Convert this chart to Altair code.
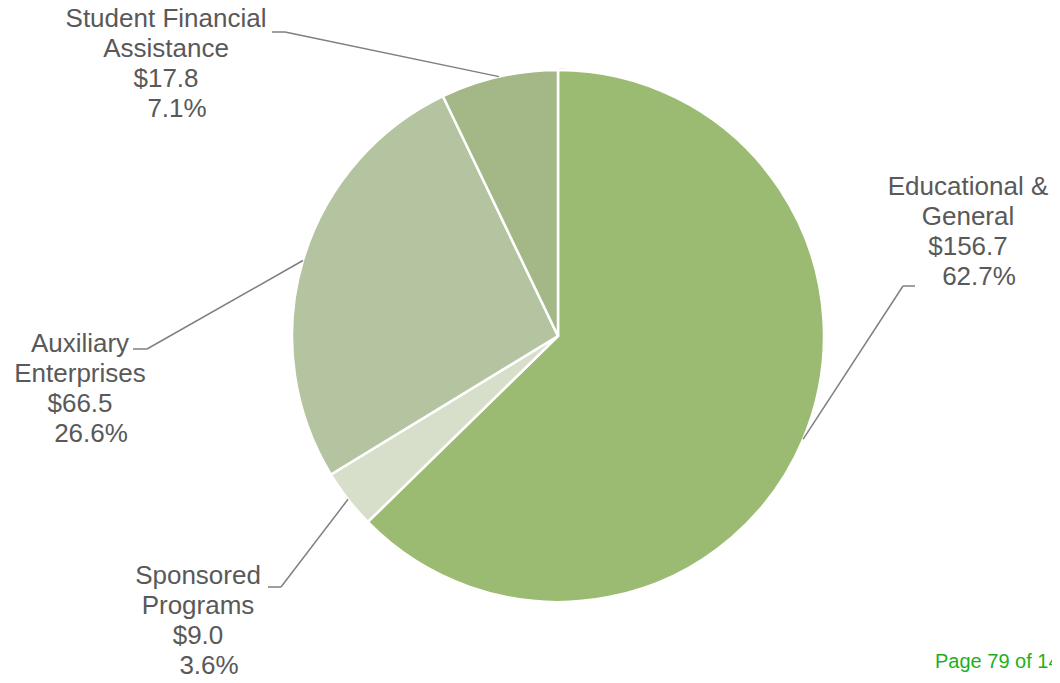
import altair as alt
import pandas as pd
import numpy as np

# ---- data ----
categories = ["Educational & General", "Sponsored Programs", "Auxiliary Enterprises", "Student Financial Assistance"]
name_lines = [["Educational &", "General"], ["Sponsored", "Programs"], ["Auxiliary", "Enterprises"], ["Student Financial", "Assistance"]]
amounts = [156.7, 9.0, 66.5, 17.8]
percents = [62.7, 3.6, 26.6, 7.1]
colors = ["#9BBB72", "#D7DFCA", "#B5C4A0", "#A3B886"]

# ---- layout (image pixel coords; page margin is 8px) ----
OFF = 8
CX, CY, R = 558, 336, 266
label_anchor = [(968, 195), (198, 584), (80, 352), (166, 27)]   # center x, first-line baseline
LINE_H = 30
PCT_DX = 11
elbow_pos = [(903, 286), (281, 587), (147, 349), (285, 32)]
tail_pos = [(915, 286), (268, 587), (133, 349), (272, 32)]

df = pd.DataFrame({"cat": categories, "amount": amounts, "pct": percents, "color": colors})
df["order"] = range(len(df))

total = sum(amounts)
cum = np.cumsum([0] + amounts)
mid = [(cum[i] + cum[i + 1]) / 2 / total * 2 * np.pi for i in range(len(amounts))]

rows = []
for i in range(len(amounts)):
    lines = name_lines[i] + [f"${amounts[i]:.1f}", f"{percents[i]:.1f}%"]
    ax, ay = label_anchor[i]
    for j, t in enumerate(lines):
        dx = PCT_DX if j == len(lines) - 1 else 0
        rows.append({"text": t, "x": ax + dx - OFF, "y": ay + j * LINE_H - OFF})
lab = pd.DataFrame(rows)

seg_rows = []
for i in range(len(amounts)):
    ax = CX + R * np.sin(mid[i]) - OFF
    ay = CY - R * np.cos(mid[i]) - OFF
    ex, ey = elbow_pos[i][0] - OFF, elbow_pos[i][1] - OFF
    tx, ty = tail_pos[i][0] - OFF, tail_pos[i][1] - OFF
    seg_rows.append({"x": ax, "y": ay, "x2": ex, "y2": ey})
    seg_rows.append({"x": ex, "y": ey, "x2": tx, "y2": ty})
seg = pd.DataFrame(seg_rows)

W, H = 1044, 667
xs = alt.Scale(domain=[0, W], range=[0, W])
ys = alt.Scale(domain=[0, H], range=[0, H])

shadow = alt.Chart(pd.DataFrame({"v": [1]})).mark_arc(
    radius=R + 2, color="#E6E6E6", stroke="#D9D9D9", strokeWidth=1
).encode(theta=alt.Theta("v:Q"), x=alt.value(CX - OFF + 1), y=alt.value(CY - OFF + 1))

pie = alt.Chart(df).mark_arc(radius=R, stroke="#FFFFFF", strokeWidth=2.5).encode(
    theta=alt.Theta("amount:Q", stack=True),
    order=alt.Order("order:Q"),
    color=alt.Color("color:N", scale=None),
    x=alt.value(CX - OFF),
    y=alt.value(CY - OFF),
)

leaders = alt.Chart(seg).mark_rule(color="#7F7F7F", strokeWidth=1.5).encode(
    x=alt.X("x:Q", scale=xs, axis=None),
    x2="x2:Q",
    y=alt.Y("y:Q", scale=ys, axis=None),
    y2="y2:Q",
)

labels = alt.Chart(lab).mark_text(
    align="center", baseline="alphabetic", font="Liberation Sans", fontSize=26, color="#595959"
).encode(
    x=alt.X("x:Q", scale=xs, axis=None),
    y=alt.Y("y:Q", scale=ys, axis=None),
    text="text:N",
)

page = alt.Chart(pd.DataFrame({"t": ["Page 79 of 14"]})).mark_text(
    align="left", baseline="alphabetic", font="Liberation Sans", fontSize=20, color="#1DB01D"
).encode(x=alt.value(935 - OFF), y=alt.value(668 - OFF), text="t:N")

chart = alt.layer(shadow, pie, leaders, labels, page).properties(
    width=W, height=H, autosize=alt.AutoSizeParams(type="none"), padding=0
).configure_view(stroke=None)

chart.save("out.html", embed_options={"renderer": "svg", "actions": False})
